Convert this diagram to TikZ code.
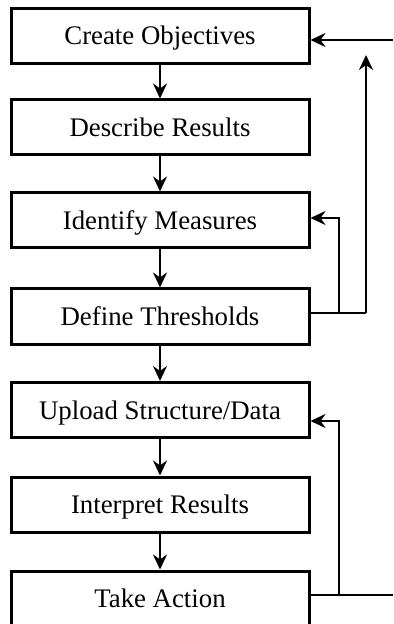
\documentclass[tikz,border=0pt]{standalone}
\usepackage{fontspec}
\setmainfont{Liberation Serif}
\usetikzlibrary{arrows.meta}
\begin{document}
\begin{tikzpicture}[x=0.5pt,y=-0.5pt,
  stepbox/.style={draw,line width=1.5pt,minimum width=149pt,minimum height=27.5pt,inner sep=0pt,
    text height=9pt,text depth=0pt,font=\fontsize{13.4}{15}\selectfont},
  conn/.style={line width=1.4pt},
  arr/.style={conn,-{Stealth[length=7.5pt,width=7pt,inset=2.5pt]}}]
\useasboundingbox (0,0) rectangle (393,624);
\begin{scope}
\clip (0,0) rectangle (393,624);
\node[stepbox] (b1) at (160,36) {Create Objectives};
\node[stepbox] (b2) at (160,127.5) {Describe Results};
\node[stepbox] (b3) at (160,220.5) {Identify Measures};
\node[stepbox] (b4) at (160,316.5) {Define Thresholds};
\node[stepbox] (b5) at (160,410) {Upload Structure/Data};
\node[stepbox] (b6) at (160,504.5) {Interpret Results};
\node[stepbox] (b7) at (160,598.5) {Take Action};
\end{scope}
\draw[arr] (b1) -- (b2);
\draw[arr] (b2) -- (b3);
\draw[arr] (b3) -- (b4);
\draw[arr] (b4) -- (b5);
\draw[arr] (b5) -- (b6);
\draw[arr] (b6) -- (b7);
% top feedback
\coordinate (t1) at (393,40);
\coordinate (t2) at (366,55);
\coordinate (t3) at (366,313);
\coordinate (t4) at (339,313);
\coordinate (t5) at (339,218);
\draw[arr] (t1) -- (b1.east |- t1);
\draw[conn] (b4.east |- t3) -- (t3);
\draw[arr] (t3) -- (t2);
\draw[arr] (t4) -- (t5) -- (b3.east |- t5);
% bottom feedback
\coordinate (u1) at (393,595);
\coordinate (u2) at (339,595);
\coordinate (u3) at (339,421);
\draw[conn] (b7.east |- u1) -- (u1);
\draw[arr] (u2) -- (u3) -- (b5.east |- u3);
\end{tikzpicture}
\end{document}
